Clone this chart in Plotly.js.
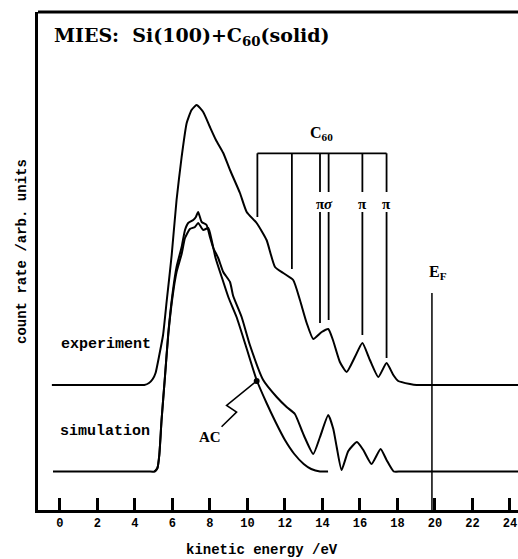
<!DOCTYPE html>
<html>
<head>
<meta charset="utf-8">
<script src="https://cdn.plot.ly/plotly-3.0.1.min.js"></script>
<style>html,body{margin:0;padding:0;background:#fff;}#chart{width:518px;height:559px;}</style>
</head>
<body>
<div id="chart"></div>
<script>
// Experiment spectrum (kinetic energy eV, count rate arb. units)
const expX = [-0.43, 4.3, 4.5, 4.75, 4.95, 5.1, 5.3, 5.5, 5.7, 5.96, 6.22, 6.49, 6.76, 7.02, 7.29, 7.64, 8.0, 8.32, 8.71, 9.07, 9.6, 9.96, 10.49, 11.02, 11.47, 11.91, 12.44, 12.8, 13.16, 13.51, 13.96, 14.31, 14.56, 14.93, 15.29, 15.73, 16.13, 16.53, 16.98, 17.42, 17.78, 18.04, 18.67, 19.02, 19.6, 24.43];
const expY = [125, 125, 125, 127, 131, 137, 155, 175, 210, 255, 310, 353, 387, 400, 405, 398, 383, 370, 357, 340, 317, 298, 287, 270, 243, 237, 230, 210, 187, 171, 178, 181, 170, 148, 138, 153, 167, 150, 133, 147, 135, 129, 126, 125, 125, 125];

// Simulation (total)
const simX = [-0.37, 4.7, 5.05, 5.2, 5.3, 5.42, 5.6, 5.78, 6.01, 6.22, 6.49, 6.67, 6.84, 7.11, 7.25, 7.37, 7.56, 7.82, 8.0, 8.18, 8.44, 8.71, 9.07, 9.24, 9.69, 10.13, 10.84, 11.56, 12.09, 12.53, 12.89, 13.07, 13.51, 13.87, 14.31, 14.58, 14.76, 15.02, 15.38, 15.84, 16.18, 16.62, 17.1, 17.42, 17.8, 18.2, 24.43];
const simY = [38.5, 38.5, 38.5, 42, 55, 90, 133, 177, 217, 243, 263, 280, 287, 290, 293, 298, 288, 285, 273, 262, 252, 238, 228, 214, 193, 165, 130, 113, 103, 96, 80, 72, 56, 73, 95, 81, 63, 40, 59, 68, 60, 46, 61, 50, 38.5, 38.5, 38.5];

// AC contribution
const acX = [5.05, 5.2, 5.3, 5.42, 5.6, 5.78, 6.01, 6.22, 6.49, 6.67, 6.93, 7.2, 7.37, 7.64, 7.91, 8.09, 8.3, 8.68, 9.0, 9.42, 9.9, 10.49, 11.02, 11.5, 12.0, 12.5, 13.0, 13.4, 13.87, 14.3];
const acY = [38.5, 42, 55, 90, 133, 176, 214, 238, 256, 272, 281, 283, 287, 280, 282, 270, 252, 230, 212, 193, 165, 130, 107, 88, 70, 56, 46, 41, 38.5, 38.5];

// AC pointer (zig-zag leader from label to curve)
const acPtrX = [10.49, 8.89, 9.42, 8.62];
const acPtrY = [129, 104.5, 98, 83.3];

// C60 level markers
const c60X = [10.53, 12.37, 13.87, 14.33, 16.13, 17.42];
const c60End = [293, 241, 187, 190, 175, 152];
const c60Lab = ['', '', 'π', 'σ', 'π', 'π'];
const c60Top = 356.7;
const c60GapTop = 318;
const c60GapBot = 298;
const c60LabY = 306;

// Fermi level
const efX = 19.84;
const efTop = 217;

// Tick labels
const tickVals = [0, 2, 4, 6, 8, 10, 12, 14, 16, 18, 20, 22, 24];
const tickText = ['0', '2', '4', '6', '8', '10', '12', '14', '16', '18', '20', '22', '24'];

// build C60 bracket path
const brX = [c60X[0], c60X[c60X.length - 1], null];
const brY = [c60Top, c60Top, null];
c60X.forEach((x, i) => {
  if (c60Lab[i]) {
    brX.push(x, x, null, x, x, null);
    brY.push(c60Top, c60GapTop, null, c60GapBot, c60End[i], null);
  } else {
    brX.push(x, x, null);
    brY.push(c60Top, c60End[i], null);
  }
});

const black = '#000';
const sm = 0.5;
const traces = [
  {x: expX, y: expY, mode: 'lines', line: {color: black, width: 2, shape: 'spline', smoothing: sm}, hoverinfo: 'skip'},
  {x: simX, y: simY, mode: 'lines', line: {color: black, width: 2, shape: 'spline', smoothing: sm}, hoverinfo: 'skip'},
  {x: acX, y: acY, mode: 'lines', line: {color: black, width: 2, shape: 'spline', smoothing: sm}, hoverinfo: 'skip'},
  {x: acPtrX, y: acPtrY, mode: 'lines', line: {color: black, width: 1.6}, hoverinfo: 'skip'},
  {x: [acPtrX[0]], y: [acPtrY[0]], mode: 'markers', marker: {color: black, size: 6}, hoverinfo: 'skip'},
  {x: brX, y: brY, mode: 'lines', line: {color: black, width: 1.8}, connectgaps: false, hoverinfo: 'skip'},
  {x: [efX, efX], y: [efTop, 0], mode: 'lines', line: {color: black, width: 1.5}, hoverinfo: 'skip'}
];

const mono = 'Liberation Mono, Courier New, monospace';
const serif = 'Liberation Serif, Times New Roman, serif';
const annotations = [
  {text: '<b>MIES:  Si(100)+C<sub>60</sub>(solid)</b>', xref: 'paper', yref: 'paper', x: 0.029, y: 0.95, xanchor: 'left', yanchor: 'middle', showarrow: false, font: {family: 'DejaVu Serif, serif', size: 19, color: black}},
  {text: '<b>experiment</b>', x: 2.45, y: 166, xanchor: 'center', yanchor: 'middle', showarrow: false, font: {family: mono, size: 15, color: black}},
  {text: '<b>simulation</b>', x: 2.4, y: 79, xanchor: 'center', yanchor: 'middle', showarrow: false, font: {family: mono, size: 15, color: black}},
  {text: '<b>AC</b>', x: 8.0, y: 73, xanchor: 'center', yanchor: 'middle', showarrow: false, font: {family: serif, size: 15, color: black}},
  {text: '<b>C<sub>60</sub></b>', x: 13.97, y: 377, xanchor: 'center', yanchor: 'middle', showarrow: false, font: {family: serif, size: 16, color: black}},
  {text: '<b>E<sub>F</sub></b>', x: 20.15, y: 238, xanchor: 'center', yanchor: 'middle', showarrow: false, font: {family: serif, size: 16, color: black}},
  {text: '<b>kinetic energy /eV</b>', xref: 'paper', yref: 'paper', x: (262 - 38) / 480, y: -(550 - 510) / 498, xanchor: 'center', yanchor: 'middle', showarrow: false, font: {family: mono, size: 14, color: black}},
  {text: '<b>count rate /arb. units</b>', xref: 'paper', yref: 'paper', x: -(38 - 22) / 480, y: (510 - 252) / 498, xanchor: 'center', yanchor: 'middle', textangle: -90, showarrow: false, font: {family: mono, size: 14, color: black}}
];
c60X.forEach((x, i) => {
  if (c60Lab[i]) {
    const t = c60Lab[i] === 'σ' ? '<b><i>σ</i></b>' : '<b>' + c60Lab[i] + '</b>';
    annotations.push({text: t, x: x, y: c60LabY, xanchor: 'center', yanchor: 'middle', showarrow: false, font: {family: serif, size: 15, color: black}});
  }
});

const layout = {
  width: 518, height: 559,
  margin: {l: 38, r: 0, t: 12, b: 49},
  paper_bgcolor: '#fff', plot_bgcolor: '#fff',
  showlegend: false,
  xaxis: {
    range: [-1.17, 24.43], showgrid: false, zeroline: false,
    showline: true, linecolor: black, linewidth: 3,
    ticks: 'inside', ticklen: 12, tickwidth: 3, tickcolor: black,
    tickvals: tickVals, ticktext: tickText.map(t => '<b>' + t + '</b>'),
    tickfont: {family: mono, size: 12, color: black}
  },
  yaxis: {
    range: [0, 498], showgrid: false, zeroline: false,
    showline: true, linecolor: black, linewidth: 3,
    showticklabels: false, ticks: ''
  },
  shapes: [
    {type: 'line', xref: 'paper', yref: 'paper', x0: 0, x1: 1, y0: 1, y1: 1, line: {color: black, width: 3}}
  ],
  annotations: annotations
};

Plotly.newPlot('chart', traces, layout, {staticPlot: true, displayModeBar: false});
</script>
</body>
</html>
